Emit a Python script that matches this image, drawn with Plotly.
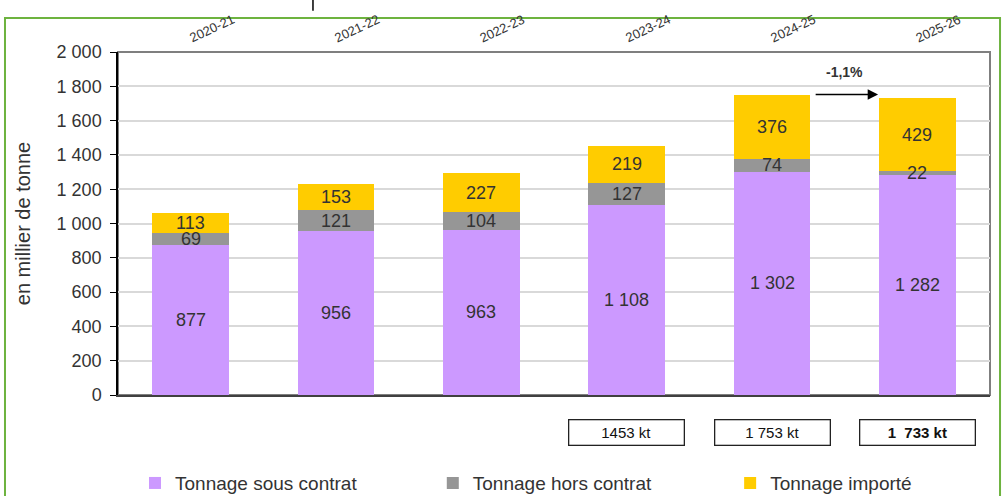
import plotly.graph_objects as go

# ---------------------- Data ----------------------
CAMPAGNES = ["2020-21", "2021-22", "2022-23", "2023-24", "2024-25", "2025-26"]
SOUS_CONTRAT = [877, 956, 963, 1108, 1302, 1282]
HORS_CONTRAT = [69, 121, 104, 127, 74, 22]
IMPORTE = [113, 153, 227, 219, 376, 429]
TOTAUX = ["1453 kt", "1 753 kt", "<b>1  733 kt</b>"]  # last three campaigns
EVOLUTION = "<b>-1,1%</b>"

SERIES = [
    ("Tonnage sous contrat", SOUS_CONTRAT, "#CC99FF", "legend"),
    ("Tonnage hors contrat", HORS_CONTRAT, "#969696", "legend2"),
    ("Tonnage importé", IMPORTE, "#FFCC00", "legend3"),
]

FONT = "Liberation Sans, Arial, sans-serif"
TXT = "#333333"


def fmt(v):
    return f"{v:,}".replace(",", " ")


fig = go.Figure()
for name, vals, color, leg in SERIES:
    fig.add_trace(go.Bar(
        x=CAMPAGNES, y=vals, name=name, marker_color=color,
        marker_line_width=0, legend=leg, textposition="none",
        showlegend=True,
    ))

# ---------- value labels centred in each segment ----------
annotations = []
for i, cat in enumerate(CAMPAGNES):
    base = 0
    for name, vals, color, leg in SERIES:
        v = vals[i]
        annotations.append(dict(
            x=cat, y=base + v / 2, xref="x", yref="y", text=fmt(v),
            showarrow=False, xanchor="center", yanchor="middle",
            font=dict(size=18, color=TXT, family=FONT),
        ))
        base += v

# ---------- campaign labels on top (rotated) ----------
for cat in CAMPAGNES:
    annotations.append(dict(
        x=cat, y=1, xref="x", yref="paper", text=cat, textangle=-25,
        showarrow=False, yshift=24, xshift=21, xanchor="center", yanchor="middle",
        font=dict(size=13, color=TXT, family=FONT),
    ))

# ---------- total boxes under the last three bars ----------
for cat, lbl in zip(CAMPAGNES[-3:], TOTAUX):
    annotations.append(dict(
        x=cat, y=-0.108, xref="x", yref="paper", text=lbl, showarrow=False,
        xanchor="center", yanchor="middle",
        width=110, height=20, borderpad=2, bordercolor="#222222", borderwidth=1.3,
        bgcolor="white", font=dict(size=15, color="#111111", family=FONT),
    ))

# ---------- evolution arrow ----------
top5 = SOUS_CONTRAT[4] + HORS_CONTRAT[4] + IMPORTE[4]
annotations.append(dict(
    x=4.73, y=top5, xref="x", yref="y", ax=4.29, ay=top5, axref="x", ayref="y",
    text="", showarrow=True, arrowhead=2, arrowsize=1.3, arrowwidth=1.6,
    arrowcolor="black",
))
annotations.append(dict(
    x=4.5, y=top5 + 130, xref="x", yref="y", text=EVOLUTION, showarrow=False,
    xanchor="center", yanchor="middle",
    font=dict(size=14, color=TXT, family=FONT),
))

shapes = [
    # plot frame (top / right)
    dict(type="rect", xref="paper", yref="paper", x0=0, x1=1, y0=0, y1=1,
         line=dict(color="#7F7F7F", width=2), layer="below"),
    # green outer border
    dict(type="rect", xref="paper", yref="paper", x0=-0.1296, x1=1.0115,
         y0=-0.4, y1=1.099, line=dict(color="#6DB33F", width=2)),
    # small black mark at top
    dict(type="line", xref="paper", yref="paper", x0=0.2236, x1=0.2236,
         y0=1.12, y1=1.16, line=dict(color="black", width=1.5)),
]

legend_common = dict(
    orientation="h", yref="container", yanchor="middle", y=0.026,
    xanchor="left", font=dict(size=19, color=TXT, family=FONT),
    bgcolor="rgba(0,0,0,0)", itemwidth=30,
)

fig.update_layout(
    width=1005, height=496,
    margin=dict(l=118, r=15, t=52, b=101),
    barmode="stack", bargap=0.472,
    paper_bgcolor="white", plot_bgcolor="white",
    separators=", ", showlegend=True,
    font=dict(family=FONT, color=TXT),
    xaxis=dict(type="category", range=[-0.5, 5.5], showticklabels=False,
               showline=True, linecolor="#404040", linewidth=2, ticks="",
               showgrid=False, zeroline=False),
    yaxis=dict(range=[0, 2000], dtick=200, tickformat=",d",
               showline=True, linecolor="black", linewidth=1.5,
               ticks="outside", ticklen=6, tickcolor="black",
               ticklabelstandoff=5,
               gridcolor="#D9D9D9", gridwidth=1.5, zeroline=False,
               tickfont=dict(size=18, color=TXT, family=FONT),
               title=dict(text="en millier de tonne", standoff=21,
                          font=dict(size=20, color=TXT, family=FONT))),
    legend=dict(legend_common, x=0.0195),
    legend2=dict(legend_common, x=0.361),
    legend3=dict(legend_common, x=0.702),
    annotations=annotations,
    shapes=shapes,
)

fig.write_html("out.html", config={"displayModeBar": False},
               post_script="document.body.style.margin='0';")
